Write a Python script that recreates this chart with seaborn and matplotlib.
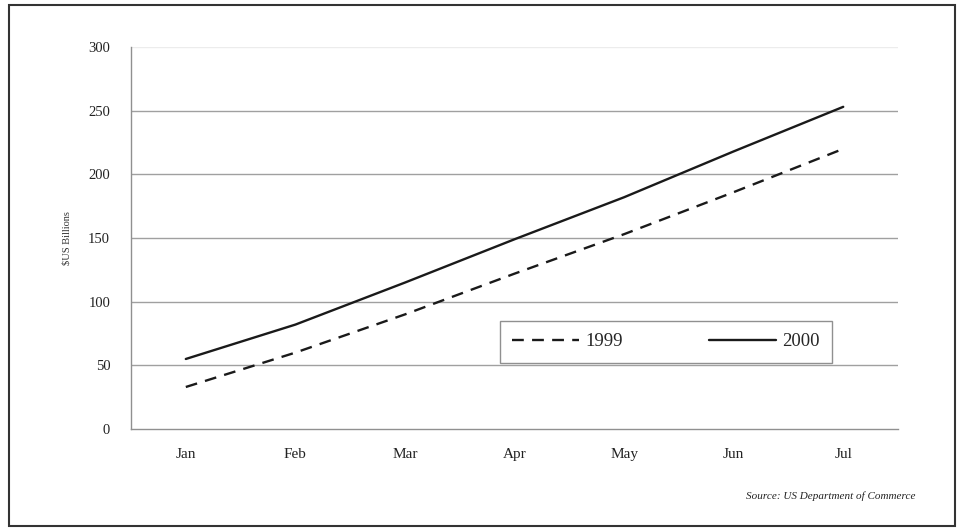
import matplotlib
matplotlib.use("Agg")
import matplotlib.pyplot as plt
from matplotlib.patches import Rectangle
import seaborn as sns
import pandas as pd

months = ["Jan", "Feb", "Mar", "Apr", "May", "Jun", "Jul"]
sales_1999 = [33, 60, 90, 122, 153, 186, 220]
sales_2000 = [55, 82, 115, 149, 182, 218, 253]
years = ["1999", "2000"]
y_ticks = [0, 50, 100, 150, 200, 250, 300]

sns.set_theme(style="white")
plt.rcParams["font.family"] = ["Liberation Serif", "DejaVu Serif"]

df = pd.DataFrame({
    "month": months * 2,
    "value": sales_1999 + sales_2000,
    "year": [years[0]] * len(months) + [years[1]] * len(months),
})
df["pos"] = [months.index(m) for m in df["month"]]

fig = plt.figure(figsize=(9.62, 5.29), dpi=100)
ax = fig.add_axes([0.1362, 0.189, 0.7973, 0.7222])

sns.lineplot(data=df, x="pos", y="value", hue="year", style="year",
             palette={"1999": "#1a1a1a", "2000": "#1a1a1a"},
             dashes={"1999": (5, 3.5), "2000": ""},
             linewidth=1.7, ax=ax, legend=False)

ax.set_xlim(-0.5, len(months) - 0.5)
ax.set_ylim(0, 300)
ax.set_yticks(y_ticks)
ax.set_yticklabels([str(t) for t in y_ticks], fontsize=10.5, color="#222222")
ax.set_xticks(range(len(months)))
ax.set_xticklabels(months, fontsize=11, color="#222222")
ax.set_xticks([i - 0.5 for i in range(len(months) + 1)], minor=True)
ax.tick_params(axis="x", which="major", length=0, pad=14)
ax.tick_params(axis="x", which="minor", length=5, width=1, color="#909090", direction="out")
ax.tick_params(axis="y", which="major", length=5, width=1, color="#909090", direction="out", pad=10)
ax.set_xlabel("")
ax.set_ylabel("$US Billions", fontsize=7.5, color="#333333", labelpad=12)

for t in y_ticks[1:]:
    ax.axhline(t, color="#a0a0a0" if t < 300 else "#ececec", linewidth=1, zorder=0)

for side in ["top", "right"]:
    ax.spines[side].set_visible(False)
for side in ["left", "bottom"]:
    ax.spines[side].set_color("#909090")
    ax.spines[side].set_linewidth(1)

handles = [
    plt.Line2D([], [], color="#1a1a1a", linewidth=1.7, dashes=(5, 3.5)),
    plt.Line2D([], [], color="#1a1a1a", linewidth=1.7),
]
leg = ax.legend(handles, years, ncol=2, loc="center",
                bbox_to_anchor=(0.697, 0.228), fontsize=13.5,
                handlelength=3.6, columnspacing=4.6, handletextpad=0.3,
                borderpad=0.65, borderaxespad=0, fancybox=False, framealpha=1,
                edgecolor="#909090")
leg.get_frame().set_linewidth(1)

fig.text(0.952, 0.063, "Source: US Department of Commerce", fontsize=8,
         style="italic", ha="right", va="center", color="#222222")

fig.patches.append(Rectangle((0.009, 0.005), 0.984, 0.986, transform=fig.transFigure,
                             fill=False, edgecolor="#333333", linewidth=1.5))

fig.savefig("out.png", dpi=100, facecolor="white")
